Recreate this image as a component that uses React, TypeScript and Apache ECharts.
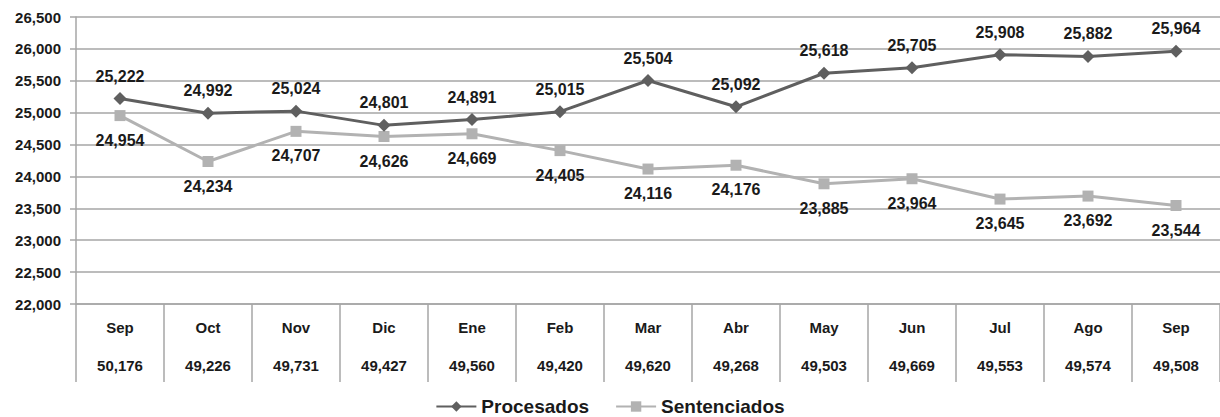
import React, { useEffect, useRef } from "react";
import * as echarts from "echarts";

const months = ["Sep", "Oct", "Nov", "Dic", "Ene", "Feb", "Mar", "Abr", "May", "Jun", "Jul", "Ago", "Sep"];
const procesados = [25222, 24992, 25024, 24801, 24891, 25015, 25504, 25092, 25618, 25705, 25908, 25882, 25964];
const sentenciados = [24954, 24234, 24707, 24626, 24669, 24405, 24116, 24176, 23885, 23964, 23645, 23692, 23544];
const totales = [50176, 49226, 49731, 49427, 49560, 49420, 49620, 49268, 49503, 49669, 49553, 49574, 49508];

const fmt = (v: number) => v.toLocaleString("en-US");
const FONT = "'Liberation Sans', Arial, sans-serif";
const GRID = "#a6a6a6";
const TXT = "#1a1a1a";

export default function App() {
  const ref = useRef<HTMLDivElement>(null);
  useEffect(() => {
    const chart = echarts.init(ref.current!, null, { renderer: "svg" });
    chart.setOption({
      animation: false,
      textStyle: { fontFamily: FONT },
      grid: { left: 76, top: 17, right: -17, bottom: 113, containLabel: false },
      legend: {
        top: 397,
        padding: 0,
        left: "center",
        itemWidth: 40,
        itemHeight: 13,
        itemGap: 26,
        textStyle: { fontFamily: FONT, fontWeight: "bold", fontSize: 19, color: TXT },
        data: ["Procesados", "Sentenciados"],
      },
      xAxis: [
        {
          type: "category",
          data: months,
          boundaryGap: true,
          position: "bottom",
          axisLine: { show: true, lineStyle: { color: GRID, width: 1.5 } },
          axisTick: { show: true, length: 78, interval: 0, lineStyle: { color: GRID, width: 1.5 } },
          axisLabel: { interval: 0, margin: 16, fontFamily: FONT, fontWeight: "bold", fontSize: 15, color: TXT },
        },
        {
          type: "category",
          data: totales.map(fmt),
          boundaryGap: true,
          position: "bottom",
          offset: 0,
          axisLine: { show: false },
          axisTick: { show: false },
          axisLabel: { interval: 0, margin: 54, fontFamily: FONT, fontWeight: "bold", fontSize: 15, color: TXT },
        },
      ],
      yAxis: {
        type: "value",
        min: 22000,
        max: 26500,
        interval: 500,
        axisLine: { show: true, lineStyle: { color: GRID, width: 1.5 } },
        axisTick: { show: true, length: 6, lineStyle: { color: GRID, width: 1.5 } },
        splitLine: { show: true, lineStyle: { color: GRID, width: 1.5 } },
        axisLabel: {
          margin: 15,
          fontFamily: FONT,
          fontWeight: "bold",
          fontSize: 15,
          color: TXT,
          formatter: (v: number) => fmt(v),
        },
      },
      series: [
        {
          name: "Procesados",
          type: "line",
          data: procesados,
          symbol: "diamond",
          symbolSize: 13,
          itemStyle: { color: "#5f5f5f" },
          lineStyle: { color: "#5f5f5f", width: 3 },
          label: {
            show: true,
            position: "top",
            distance: 8,
            fontFamily: FONT,
            fontWeight: "bold",
            fontSize: 16,
            color: TXT,
            formatter: (p: any) => fmt(p.value),
          },
          z: 3,
        },
        {
          name: "Sentenciados",
          type: "line",
          data: sentenciados,
          symbol: "rect",
          symbolSize: 11,
          itemStyle: { color: "#b2b2b2" },
          lineStyle: { color: "#b2b2b2", width: 3 },
          label: {
            show: true,
            position: "bottom",
            distance: 11,
            fontFamily: FONT,
            fontWeight: "bold",
            fontSize: 16,
            color: TXT,
            formatter: (p: any) => fmt(p.value),
          },
          z: 2,
        },
      ],
    });
    return () => chart.dispose();
  }, []);
  return <div ref={ref} style={{ width: 1220, height: 417, position: "absolute", left: 0, top: 0 }} />;
}
